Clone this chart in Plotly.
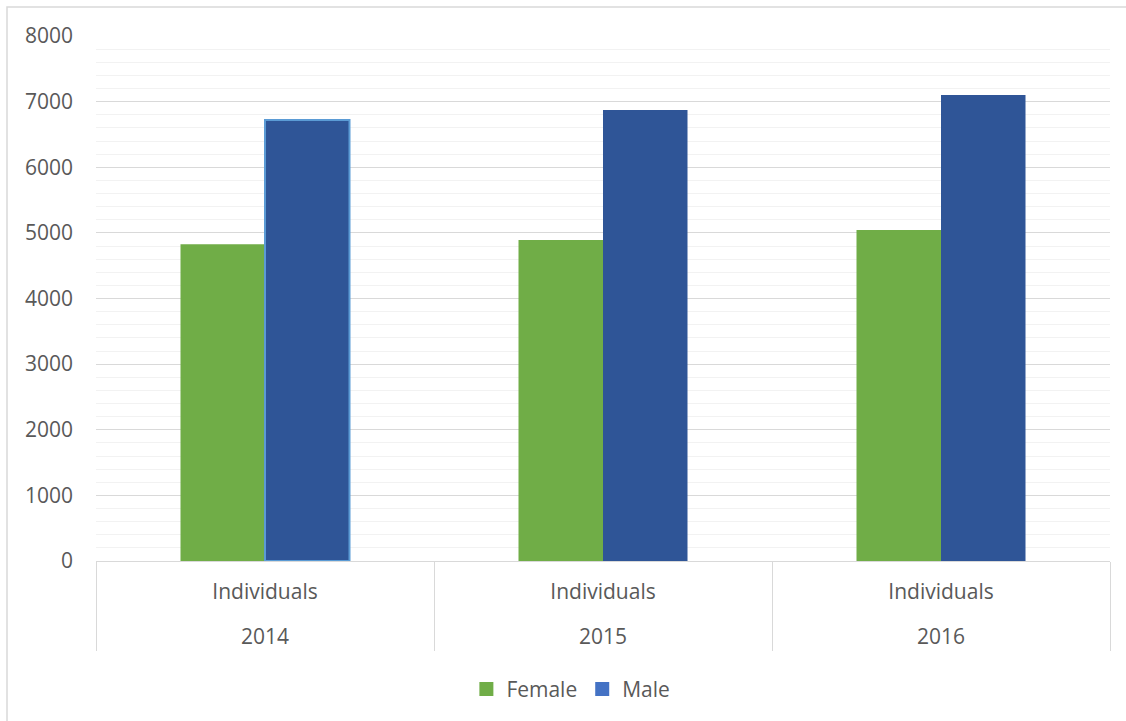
import plotly.graph_objects as go

years = ["2014", "2015", "2016"]
group_label = ["Individuals", "Individuals", "Individuals"]
female = [4825, 4892, 5044]
male = [6720, 6873, 7102]

FONT = "Open Sans"
TXT = "#595959"
C_F = "#70ad47"
C_M = "#2f5597"
C_M_LEG = "#4472c4"
FS = 21

# inner labels get an extra blank line so the outer level sits lower (as in the reference)
x = [years, [g + "<br> " for g in group_label]]

fig = go.Figure()
fig.add_trace(go.Bar(x=x, y=female, name="Female", marker=dict(color=C_F, line=dict(width=0)),
                     showlegend=False))
fig.add_trace(go.Bar(x=x, y=male, name="Male",
                     marker=dict(color=C_M, line=dict(color="#5b9bd5", width=[2, 0, 0])),
                     showlegend=False))
# legend entries
fig.add_trace(go.Scatter(x=[None], y=[None], mode="markers", name="Female",
                         marker=dict(symbol="square", size=14, color=C_F)))
fig.add_trace(go.Scatter(x=[None], y=[None], mode="markers", name="Male",
                         marker=dict(symbol="square", size=14, color=C_M_LEG)))

fig.update_layout(
    width=1126, height=721,
    margin=dict(l=96, r=16, t=36, b=160),
    paper_bgcolor="white", plot_bgcolor="white",
    font=dict(family=FONT, size=FS, color=TXT),
    barmode="group", bargap=0.5, bargroupgap=0,
    legend=dict(orientation="h", xref="container", yref="container",
                x=0.507, xanchor="center", y=0.044, yanchor="middle",
                font=dict(size=FS, color=TXT), itemclick=False),
    xaxis=dict(type="multicategory", showgrid=False, showline=True, linecolor="#d9d9d9",
               linewidth=1, ticks="", showdividers=True, dividercolor="#d9d9d9",
               dividerwidth=1, ticklabelstandoff=12, tickfont=dict(size=FS, color=TXT)),
    yaxis=dict(range=[0, 8000], dtick=1000, tick0=0, showgrid=True, gridcolor="#d9d9d9",
               gridwidth=1, zeroline=False, showline=False, ticks="",
               ticklabelstandoff=22, tickfont=dict(size=FS, color=TXT),
               minor=dict(dtick=200, showgrid=True, gridcolor="#f2f2f2", gridwidth=1)),
    shapes=[dict(type="rect", xref="paper", yref="paper",
                 x0=(7 - 96) / 1014, x1=(1135 - 96) / 1014,
                 y0=(561 - 730) / 525, y1=(561 - 7) / 525,
                 line=dict(color="#d9d9d9", width=1.5), layer="below")],
)

fig.write_html("out.html")
